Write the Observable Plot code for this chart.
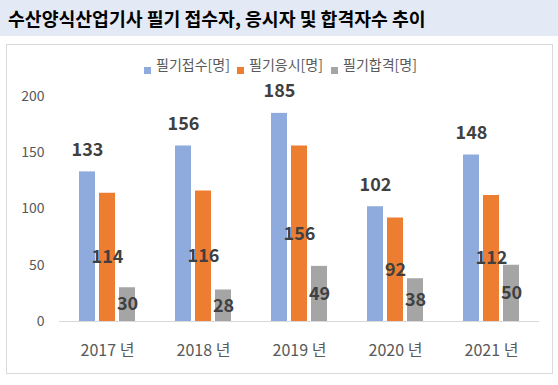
<!DOCTYPE html>
<html><head><meta charset="utf-8">
<script src="https://cdn.jsdelivr.net/npm/d3@7"></script>
<script src="https://cdn.jsdelivr.net/npm/@observablehq/plot@0.6"></script>
<style>
html,body{margin:0;padding:0;background:#fff;}
#wrap{position:relative;width:558px;height:385px;overflow:hidden;font-family:"Noto Sans CJK KR","Noto Sans",sans-serif;}
#title{position:absolute;left:0;top:0;width:558px;height:36px;background:#E4EAF5;font-weight:bold;font-size:18.3px;line-height:36px;padding-left:8px;box-sizing:border-box;color:#000;}
#box{position:absolute;left:6px;top:44px;width:547px;height:330px;border:1px solid #D9D9D9;box-sizing:border-box;}
#legend{position:absolute;top:0;left:0;width:558px;height:90px;font-size:14px;color:#595959;}
#legend .sw{position:absolute;width:7px;height:7px;top:67px;}
#legend .tx{position:absolute;top:54px;line-height:20px;white-space:nowrap;}
#chart{position:absolute;left:0;top:0;}
</style></head>
<body><div id="wrap">
<div id="title">수산양식산업기사 필기 접수자, 응시자 및 합격자수 추이</div>
<div id="box"></div>
<div id="legend"></div>
<div id="chart"></div>
</div>
<script>
const years = ["2017 년", "2018 년", "2019 년", "2020 년", "2021 년"];
const series = ["필기접수[명]", "필기응시[명]", "필기합격[명]"];
const applied = [133, 156, 185, 102, 148];
const taken = [114, 116, 156, 92, 112];
const passed = [30, 28, 49, 38, 50];
const colors = ["#8FAADC", "#ED7D31", "#A5A5A5"];
const yTicks = [0, 50, 100, 150, 200];

const cols = [applied, taken, passed];
const data = years.flatMap((y, i) => series.map((s, k) => ({year: y, s, v: cols[k][i]})));

const leg = document.getElementById("legend");
const legX = [144, 237, 331];
series.forEach((s, k) => {
  const sw = document.createElement("span");
  sw.className = "sw";
  sw.style.left = legX[k] + "px";
  sw.style.background = colors[k];
  leg.appendChild(sw);
  const tx = document.createElement("span");
  tx.className = "tx";
  tx.style.left = (legX[k] + 12) + "px";
  tx.textContent = s;
  leg.appendChild(tx);
});

const chart = Plot.plot({
  width: 558, height: 385,
  marginLeft: 57, marginRight: 17, marginTop: 96, marginBottom: 64,
  style: {fontFamily: "'Noto Sans CJK KR', sans-serif", background: "transparent"},
  fx: {domain: years, padding: 0, label: null, axis: null},
  x: {domain: series, axis: null, paddingInner: 0.2, paddingOuter: 0.91},
  y: {domain: [0, 200], axis: null},
  color: {domain: series, range: colors},
  marks: [
    Plot.axisY({ticks: yTicks, tickSize: 0, tickPadding: 15, label: null, fontSize: 14, color: "#595959"}),
    Plot.axisFx({anchor: "bottom", tickSize: 0, tickPadding: 23, fontSize: 16, color: "#595959", label: null}),
    Plot.barY(data, {fx: "year", x: "s", y: "v", fill: "s"}),
    Plot.ruleY([0], {stroke: "#D9D9D9"}),
    Plot.text(data.filter(d => d.s === series[0]), {fx: "year", x: "s", y: "v", text: "v", dy: -22, fontSize: 18, fontWeight: "bold", fill: "#404040"}),
    Plot.text(data.filter(d => d.s !== series[0]), {fx: "year", x: "s", y: d => d.v / 2, text: "v", fontSize: 18, fontWeight: "bold", fill: "#404040"})
  ]
});
document.getElementById("chart").appendChild(chart);
</script>
</body></html>
